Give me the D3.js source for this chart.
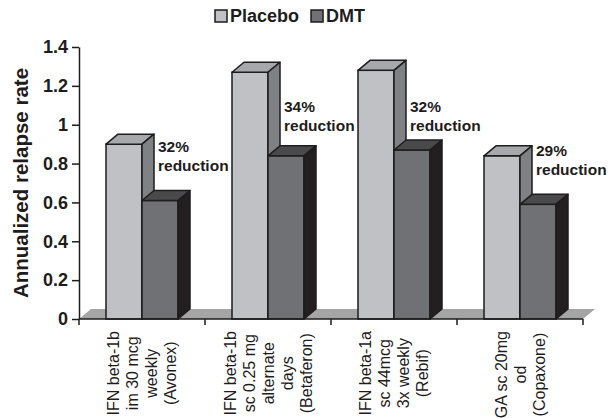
<!DOCTYPE html>
<html>
<head>
<meta charset="utf-8">
<script src="https://cdn.jsdelivr.net/npm/d3@7/dist/d3.min.js"></script>
<style>
  html, body { margin: 0; padding: 0; background: #fff; }
  svg { display: block; font-family: Arial, "Liberation Sans", Helvetica, sans-serif; }
</style>
</head>
<body>
<svg id="chart" width="608" height="418"></svg>
<script>
// Annualized relapse rates: placebo vs disease-modifying therapy (DMT)
const categories = [
  ["IFN beta-1b", "im 30 mcg", "weekly", "(Avonex)"],
  ["IFN beta-1b", "sc 0.25 mg", "alternate", "days", "(Betaferon)"],
  ["IFN beta-1a", "sc 44mcg", "3x weekly", "(Rebif)"],
  ["GA sc 20mg", "od", "(Copaxone)"]
];
const seriesNames = ["Placebo", "DMT"];
const placebo = [0.90, 1.27, 1.28, 0.84];
const dmt = [0.61, 0.84, 0.87, 0.59];
const reductions = ["32%", "34%", "32%", "29%"];
const yTickValues = [0, 0.2, 0.4, 0.6, 0.8, 1, 1.2, 1.4];
const yTickLabels = ["0", "0.2", "0.4", "0.6", "0.8", "1", "1.2", "1.4"];

const svg = d3.select("#chart");
const ink = "#1e1c1d";

// face colours: [front, top, side]
const faces = {
  Placebo: ["#c0c1c5", "#a7a8ac", "#808185"],
  DMT: ["#707175", "#4a4a4d", "#231f20"]
};

const plot = { left: 79, right: 583, top: 47, bottom: 319 };
const depth = { dx: 12, dy: 10 };

const x = d3.scaleBand().domain(d3.range(categories.length)).range([plot.left, plot.right]);
const xs = d3.scaleBand().domain(seriesNames).range([x.bandwidth() / 2 - 36, x.bandwidth() / 2 + 36]);
const y = d3.scaleLinear().domain([0, 1.4]).range([plot.bottom, plot.top]);

// floor
svg.append("polygon")
  .attr("points", [
    [plot.left, y(0)], [plot.right, y(0)],
    [plot.right + depth.dx, y(0) - depth.dy], [plot.left + depth.dx, y(0) - depth.dy]
  ].map(p => p.join(",")).join(" "))
  .attr("fill", "#a5a5a5");

// 3D bars
function bar3d(g, x0, w, value, cols) {
  const yt = y(value), yb = y(0), dx = depth.dx, dy = depth.dy;
  const pts = a => a.map(p => p.join(",")).join(" ");
  g.append("rect").attr("x", x0).attr("y", yt).attr("width", w).attr("height", yb - yt)
    .attr("fill", cols[0]).attr("stroke", ink).attr("stroke-width", 1.5);
  g.append("polygon").attr("points", pts([[x0, yt], [x0 + dx, yt - dy], [x0 + w + dx, yt - dy], [x0 + w, yt]]))
    .attr("fill", cols[1]).attr("stroke", ink).attr("stroke-width", 1.5).attr("stroke-linejoin", "round");
  g.append("polygon").attr("points", pts([[x0 + w, yt], [x0 + w + dx, yt - dy], [x0 + w + dx, yb - dy], [x0 + w, yb]]))
    .attr("fill", cols[2]).attr("stroke", ink).attr("stroke-width", 1.5).attr("stroke-linejoin", "round");
}

const bars = svg.append("g");
categories.forEach((c, i) => {
  const g = bars.append("g");
  bar3d(g, x(i) + xs("Placebo"), xs.bandwidth(), placebo[i], faces.Placebo);
  bar3d(g, x(i) + xs("DMT"), xs.bandwidth(), dmt[i], faces.DMT);
});

// y axis
const yAxis = d3.axisLeft(y).tickValues(yTickValues)
  .tickFormat((d, i) => yTickLabels[i]).tickSize(7).tickSizeOuter(0).tickPadding(4);
const gy = svg.append("g").attr("transform", `translate(${plot.left},0)`).call(yAxis);
gy.select(".domain").attr("stroke", ink).attr("stroke-width", 1.5);
gy.selectAll(".tick line").attr("stroke", ink).attr("stroke-width", 1.5);
gy.selectAll(".tick text").attr("font-size", 18).attr("font-weight", "bold").attr("fill", ink)
  .attr("font-family", "Arial, 'Liberation Sans', sans-serif");

// x axis with ticks at category boundaries
const bounds = d3.range(categories.length + 1).map(i => plot.left + i * x.step());
const gx = svg.append("g");
gx.append("line").attr("x1", plot.left).attr("x2", plot.right).attr("y1", y(0)).attr("y2", y(0))
  .attr("stroke", ink).attr("stroke-width", 1.5);
gx.selectAll("line.tk").data(bounds).join("line").attr("class", "tk")
  .attr("x1", d => d).attr("x2", d => d).attr("y1", y(0)).attr("y2", y(0) + 6)
  .attr("stroke", ink).attr("stroke-width", 1.5);

// rotated category labels, centred lines
const catFont = 16, lineGap = 19, labelTop = y(0) + 12;
categories.forEach((lines, i) => {
  const g = svg.append("g");
  const cx = x(i) + x.bandwidth() / 2;
  const texts = lines.map((t, j) => {
    const lx = cx + (j - (lines.length - 1) / 2) * lineGap + catFont * 0.36;
    return g.append("text").text(t).attr("font-size", catFont).attr("fill", ink)
      .attr("text-anchor", "middle").attr("data-x", lx);
  });
  const maxLen = d3.max(texts, t => t.node().getComputedTextLength());
  const cy = labelTop + maxLen / 2;
  texts.forEach(t => t.attr("transform", `translate(${t.attr("data-x")},${cy}) rotate(-90)`).attr("data-x", null));
});

// reduction notes beside each pair
const noteLevel = [0.86, 1.065, 1.065, 0.84];
categories.forEach((c, i) => {
  const tx = x(i) + xs("Placebo") + xs.bandwidth() + depth.dx + 4;
  const t = svg.append("text").attr("x", tx).attr("y", y(noteLevel[i]))
    .attr("font-size", 15.5).attr("font-weight", "bold").attr("fill", ink);
  t.append("tspan").attr("x", tx).text(reductions[i]);
  t.append("tspan").attr("x", tx).attr("dy", 19).text("reduction");
});

// y axis title
svg.append("text").attr("transform", "translate(28,183) rotate(-90)")
  .attr("text-anchor", "middle").attr("font-size", 20.5).attr("font-weight", "bold").attr("fill", ink)
  .text("Annualized relapse rate");

// legend
const legend = svg.append("g");
let lx = 215;
seriesNames.forEach((name, i) => {
  legend.append("rect").attr("x", lx).attr("y", 10).attr("width", 12).attr("height", 12)
    .attr("fill", faces[name][0]).attr("stroke", ink).attr("stroke-width", 1.5);
  const t = legend.append("text").attr("x", lx + 15).attr("y", 22).attr("font-size", 18)
    .attr("font-weight", "bold").attr("fill", ink).text(name);
  lx += 15 + t.node().getComputedTextLength() + 12;
});
</script>
</body>
</html>
